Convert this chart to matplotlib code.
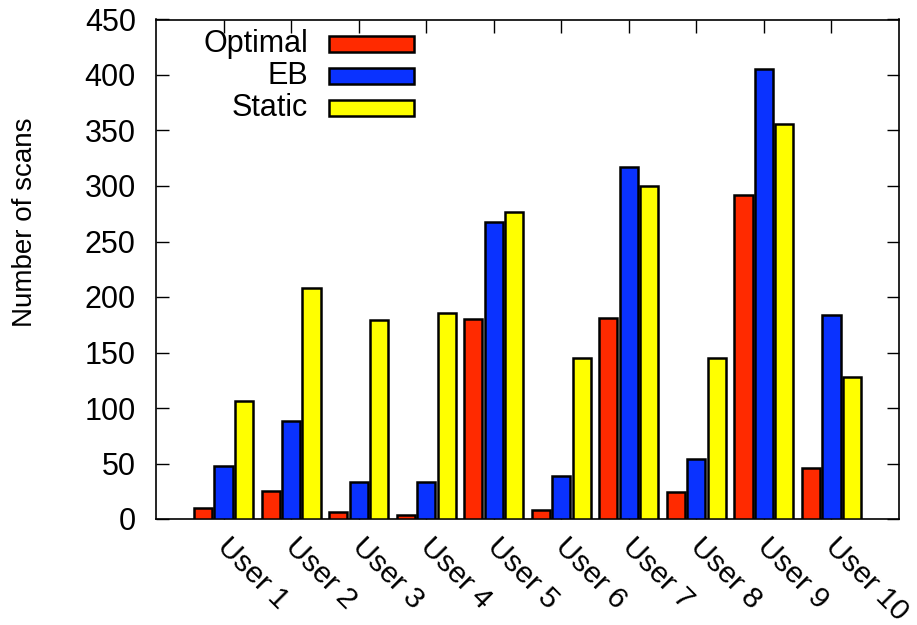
import numpy as np
import matplotlib
matplotlib.use("Agg")
import matplotlib.pyplot as plt
import matplotlib.transforms as mtransforms
from matplotlib.patches import Rectangle

plt.rcParams['font.family'] = ['Liberation Sans', 'DejaVu Sans']

users = ["User 1", "User 2", "User 3", "User 4", "User 5",
         "User 6", "User 7", "User 8", "User 9", "User 10"]
series_names = ["Optimal", "EB", "Static"]
optimal = [10, 25, 6, 4, 180, 8, 181, 24, 292, 46]
eb = [48, 88, 33, 33, 268, 39, 317, 54, 405, 184]
static = [106, 208, 179, 186, 277, 145, 300, 145, 356, 128]
y_ticks = [0, 50, 100, 150, 200, 250, 300, 350, 400, 450]

colors = ["#ff2a00", "#0a32ff", "#ffff00"]
FS = 22

fig = plt.figure(figsize=(9.17, 6.25), dpi=100)
ax = fig.add_axes([156 / 917, 1 - 519 / 625, 743 / 917, 499.5 / 625])

x = np.arange(len(users))
step = 0.303
width = 0.27
for k, (vals, c) in enumerate(zip([optimal, eb, static], colors)):
    ax.bar(x + (k - 1) * step, vals, width=width, color=c,
           edgecolor="black", linewidth=1.8, zorder=3)

ax.set_xlim(-1, 10)
ax.set_ylim(0, 450)
ax.set_yticks(y_ticks)
ax.set_xticks(x)
ax.set_xticklabels(users, rotation=-45, ha="left", va="top",
                   rotation_mode="anchor", fontsize=21.5)
ax.tick_params(axis="y", direction="in", length=9, width=1, labelsize=FS,
               pad=14.5, left=True, right=True)
ax.tick_params(axis="x", direction="in", length=9, width=1,
               pad=10, top=True, bottom=True)

# nudge the slanted user labels to the right
shift = mtransforms.ScaledTranslation(8 / 100, 0, fig.dpi_scale_trans)
for lab in ax.get_xticklabels():
    lab.set_rotation_mode("anchor")
    lab.set_transform(lab.get_transform() + shift)
for s in ax.spines.values():
    s.set_linewidth(1.2)

fig.text(25 / 917, 1 - 222 / 625, "Number of scans", rotation=90,
         ha="center", va="center", fontsize=20)

# Key: labels right-aligned, swatches to their right
row_y = [0.950, 0.886, 0.822]
for name, c, yy in zip(series_names, colors, row_y):
    ax.text(0.2046, yy, name, transform=ax.transAxes, ha="right",
            va="center", fontsize=FS, zorder=5)
    ax.add_patch(Rectangle((0.2328, yy - 0.016), 0.1144, 0.032,
                           transform=ax.transAxes, facecolor=c,
                           edgecolor="black", linewidth=1.8, zorder=5))

fig.savefig("out.png", dpi=100)
